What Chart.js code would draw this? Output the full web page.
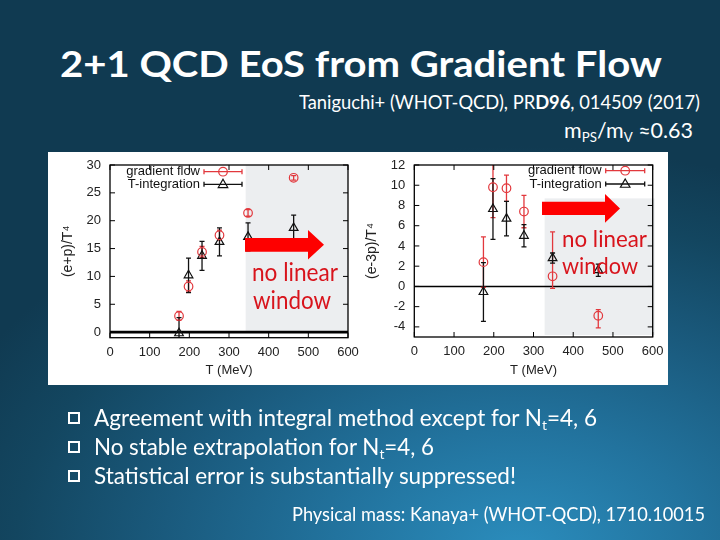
<!DOCTYPE html>
<html><head><meta charset="utf-8">
<script src="https://cdn.jsdelivr.net/npm/chart.js@4.4.1/dist/chart.umd.min.js"></script>
<style>
html,body{margin:0;padding:0;}
body{width:720px;height:540px;overflow:hidden;position:relative;
 background: radial-gradient(ellipse 85% 75% at 72% 102%, #2b8dbd 0%, #22739e 30%, #1a5a7d 58%, #134660 82%, #103a51 100%);
 font-family: Lato, 'Open Sans', sans-serif; color:#fff;}
.t{position:absolute;white-space:nowrap;line-height:1;transform-origin:0 0;}
#panel{position:absolute;left:48px;top:152px;width:620px;height:233px;background:#fff;}
canvas{position:absolute;}
.red{color:#d8141c;}
.sq{position:absolute;width:8px;height:8px;border:2.5px solid #fff;}
sub{font-size:0.62em;vertical-align:-0.3em;line-height:0;}
#ov{position:absolute;left:0;top:0;width:720px;height:540px;pointer-events:none;}
</style></head>
<body>
<div class="t" style="left:60px;top:44px;font-size:37px;font-weight:700;" data-w="602">2+1 QCD EoS from Gradient Flow</div>
<div class="t" style="left:299px;top:93px;font-size:18.5px;" data-w="401">Taniguchi+ (WHOT-QCD), PR<b>D96</b>, 014509 (2017)</div>
<div class="t" style="left:564px;top:119px;font-size:21px;" data-w="129">m<sub>PS</sub>/m<sub>V</sub> ≈0.63</div>

<div id="panel"></div>
<canvas id="c1" width="312" height="233" style="left:48px;top:152px;"></canvas>
<canvas id="c2" width="308" height="233" style="left:360px;top:152px;"></canvas>

<svg id="ov" viewBox="0 0 720 540">
  <polygon fill="#fe0000" points="245,238 308,238 308,230 324,244.7 308,259.5 308,251.7 245,251.7"/>
  <polygon fill="#fe0000" points="542,201.7 605,201.7 605,194 620,208.4 605,222.7 605,215 542,215"/>
</svg>
<div class="t red" style="left:252px;top:259px;font-size:25px;" data-w="86">no linear</div>
<div class="t red" style="left:253px;top:287px;font-size:25px;" data-w="78">window</div>
<div class="t red" style="left:562px;top:226px;font-size:24px;" data-w="85">no linear</div>
<div class="t red" style="left:562px;top:252.5px;font-size:24px;" data-w="76">window</div>

<div class="sq" style="left:68px;top:412px;"></div>
<div class="sq" style="left:68px;top:441px;"></div>
<div class="sq" style="left:68px;top:470px;"></div>
<div class="t" style="left:94px;top:407px;font-size:22.5px;" data-w="503">Agreement with integral method except for N<sub>t</sub>=4, 6</div>
<div class="t" style="left:94px;top:436px;font-size:22.5px;" data-w="340">No stable extrapolation for N<sub>t</sub>=4, 6</div>
<div class="t" style="left:94px;top:464.5px;font-size:22.5px;" data-w="422">Statistical error is substantially suppressed!</div>
<div class="t" style="left:292px;top:505px;font-size:18.5px;" data-w="413">Physical mass: Kanaya+ (WHOT-QCD), 1710.10015</div>

<script>
// ---------------- data ----------------
const temps = [174, 198, 232, 276, 348, 463];           // T (MeV)
const xTicks = [0, 100, 200, 300, 400, 500, 600];
const epTicks = [0, 5, 10, 15, 20, 25, 30];
const e3pTicks = [-4, -2, 0, 2, 4, 6, 8, 10, 12];

// (e+p)/T^4
const epGF = [2.9, 8.2, 14.4, 17.4, 21.4, 27.7];
const epGFerr = [0.8, 1.0, 1.0, 0.9, 0.6, 0.4];
const epTI = [-0.2, 10.2, 13.7, 16.2, 17.1, 18.7];
const epTIerr = [2.8, 3.1, 2.6, 2.5, 2.5, 2.3];

// (e-3p)/T^4
const e3pGF = [2.4, 9.8, 9.7, 7.4, 1.0, -2.9];
const e3pGFerrUp = [2.5, 3.0, 1.3, 1.6, 4.4, 0.6];
const e3pGFerrDn = [2.5, 3.0, 1.3, 1.6, 1.2, 1.2];
const e3pTI = [-0.55, 7.65, 6.7, 5.0, 2.8, 1.6];
const e3pTIerr = [2.9, 3.0, 1.7, 1.1, 0.5, 0.6];

// shaded "no linear window" regions  [xMin, xMax, yMin, yMax]
const epShade = [342, 600, 0, 30];
const e3pShade = [328, 605, -4.8, 8.7];

const legendLabels = ['gradient flow', 'T-integration'];
// ---------------------------------------

const RED = '#e2383d', BLACK = '#111';
const FONT = "'Liberation Sans', Arial, sans-serif";
Chart.defaults.font.family = FONT;
Chart.defaults.color = '#222';

const extra = {};

function toPts(v){ return temps.map((t,i)=>({x:t, y:v[i]})); }

function drawMarker(ctx, style, x, y, color){
  ctx.save(); ctx.strokeStyle = color; ctx.lineWidth = 1.2; ctx.beginPath();
  if (style === 'circle') { ctx.arc(x, y, 4.3, 0, Math.PI*2); }
  else { const r = 5; ctx.moveTo(x, y - r); ctx.lineTo(x + r*0.95, y + r*0.65); ctx.lineTo(x - r*0.95, y + r*0.65); ctx.closePath(); }
  ctx.stroke(); ctx.restore();
}

const customPlugin = {
  id: 'custom',
  beforeDatasetsDraw(chart){
    const e = extra[chart.canvas.id]; const {ctx, chartArea:a} = chart;
    const xs = chart.scales.x, ys = chart.scales.y;
    const s = e.shade;
    ctx.save(); ctx.fillStyle = '#eceef0';
    const x0 = xs.getPixelForValue(s[0]), x1 = xs.getPixelForValue(s[1]);
    const y0 = ys.getPixelForValue(s[3]), y1 = ys.getPixelForValue(s[2]);
    ctx.fillRect(x0, y0, x1 - x0, y1 - y0);
    ctx.strokeStyle = '#000'; ctx.lineWidth = e.zeroW;
    const yz = ys.getPixelForValue(0);
    ctx.beginPath(); ctx.moveTo(a.left, yz); ctx.lineTo(a.right, yz); ctx.stroke();
    ctx.beginPath(); ctx.rect(a.left, a.top, a.right - a.left, a.bottom - a.top); ctx.clip();
    e.err.forEach(ser => {
      ctx.strokeStyle = ser.color; ctx.lineWidth = 1.3;
      temps.forEach((t,i)=>{
        const x = xs.getPixelForValue(t);
        const yt = ys.getPixelForValue(ser.vals[i] + ser.up[i]);
        const yb = ys.getPixelForValue(ser.vals[i] - ser.dn[i]);
        ctx.beginPath();
        ctx.moveTo(x, yt); ctx.lineTo(x, yb);
        ctx.moveTo(x - 2.5, yt); ctx.lineTo(x + 2.5, yt);
        ctx.moveTo(x - 2.5, yb); ctx.lineTo(x + 2.5, yb);
        ctx.stroke();
      });
    });
    ctx.restore();
  },
  afterDraw(chart){
    const e = extra[chart.canvas.id]; const {ctx, chartArea:a} = chart;
    const xs = chart.scales.x, ys = chart.scales.y;
    ctx.save();
    ctx.strokeStyle = '#000'; ctx.lineWidth = 1.3;
    ctx.strokeRect(a.left, a.top, a.right - a.left, a.bottom - a.top);
    ctx.lineWidth = 1;
    ys.ticks.forEach(tk => {
      const y = ys.getPixelForValue(tk.value);
      ctx.beginPath(); ctx.moveTo(a.left, y); ctx.lineTo(a.left + 5, y);
      ctx.moveTo(a.right, y); ctx.lineTo(a.right - 5, y); ctx.stroke();
    });
    xs.ticks.forEach(tk => {
      const x = xs.getPixelForValue(tk.value);
      ctx.beginPath(); ctx.moveTo(x, a.bottom); ctx.lineTo(x, a.bottom - 5);
      ctx.moveTo(x, a.top); ctx.lineTo(x, a.top + 5); ctx.stroke();
    });
    ctx.font = "13px " + FONT; ctx.textAlign = 'right'; ctx.textBaseline = 'middle'; ctx.fillStyle = '#111';
    const L = e.legend;
    legendLabels.forEach((lab, i) => {
      const y = a.top + L.y[i];
      const tx = a.left + L.textRight;
      ctx.fillText(lab, tx, y);
      const col = i === 0 ? RED : BLACK;
      const sx0 = tx + 4, sx1 = tx + 4 + L.len;
      ctx.strokeStyle = col; ctx.lineWidth = 1.3;
      ctx.beginPath(); ctx.moveTo(sx0, y); ctx.lineTo(sx1, y);
      ctx.moveTo(sx0, y - 2.5); ctx.lineTo(sx0, y + 2.5);
      ctx.moveTo(sx1, y - 2.5); ctx.lineTo(sx1, y + 2.5); ctx.stroke();
      drawMarker(ctx, i === 0 ? 'circle' : 'triangle', (sx0 + sx1) / 2, y, col);
    });
    ctx.restore();
  }
};

function zeroPad(s){ s.paddingLeft = 0; s.paddingRight = 0; s.paddingTop = 0; s.paddingBottom = 0; }

function makeChart(id, cfg){
  extra[id] = cfg.extra;
  return new Chart(document.getElementById(id), {
    type: 'scatter',
    data: { datasets: [
      { label: legendLabels[0], data: toPts(cfg.gf), pointStyle: 'circle', pointRadius: 4.3, borderColor: RED, backgroundColor: 'rgba(0,0,0,0)', pointBorderWidth: 1.2, showLine: false },
      { label: legendLabels[1], data: toPts(cfg.ti), pointStyle: 'triangle', pointRadius: 5, borderColor: BLACK, backgroundColor: 'rgba(0,0,0,0)', pointBorderWidth: 1.2, showLine: false }
    ]},
    options: {
      responsive: false, animation: false, devicePixelRatio: 1,
      layout: { padding: cfg.pad },
      plugins: { legend: { display: false }, tooltip: { enabled: false } },
      scales: {
        x: { type: 'linear', min: 0, max: 600,
          afterBuildTicks: s => { s.ticks = xTicks.map(v => ({value: v})); },
          afterFit: s => { s.height = cfg.xh; zeroPad(s); },
          ticks: { autoSkip: false, maxRotation: 0, padding: 7, font: { size: 13 }, color: '#222' },
          grid: { display: false, drawTicks: false }, border: { display: false },
          title: { display: true, text: 'T (MeV)', font: { size: 13 }, color: '#222', padding: { bottom: 7, top: 0 } } },
        y: { type: 'linear', min: cfg.ymin, max: cfg.ymax,
          afterBuildTicks: s => { s.ticks = cfg.yticks.map(v => ({value: v})); },
          afterFit: s => { s.width = cfg.yw; zeroPad(s); },
          ticks: { padding: 9, font: { size: 13 }, color: '#222' },
          grid: { display: false, drawTicks: false }, border: { display: false },
          title: { display: true, text: cfg.ytitle, font: { size: 14 }, color: '#222', padding: { top: cfg.ytp, bottom: 0 } } }
      }
    },
    plugins: [customPlugin]
  });
}

makeChart('c1', {
  gf: epGF, ti: epTI, ymin: -1, ymax: 30, yticks: epTicks, ytitle: '(e+p)/T⁴', ytp: 12,
  pad: { left: 0, right: 12, top: 13, bottom: 0 }, yw: 62, xh: 47.3,
  extra: { shade: epShade, zeroW: 2.6,
    err: [ { vals: epGF, up: epGFerr, dn: epGFerr, color: RED }, { vals: epTI, up: epTIerr, dn: epTIerr, color: BLACK } ],
    legend: { y: [6.7, 19.3], textRight: 90, len: 38 } }
});
makeChart('c2', {
  gf: e3pGF, ti: e3pTI, ymin: -5, ymax: 12, yticks: e3pTicks, ytitle: '(e-3p)/T⁴', ytp: 4,
  pad: { left: 0, right: 15.3, top: 13, bottom: 0 }, yw: 54.3, xh: 48,
  extra: { shade: e3pShade, zeroW: 1.5,
    err: [ { vals: e3pGF, up: e3pGFerrUp, dn: e3pGFerrDn, color: RED }, { vals: e3pTI, up: e3pTIerr, dn: e3pTIerr, color: BLACK } ],
    legend: { y: [5.7, 19], textRight: 187.4, len: 39 } }
});

document.querySelectorAll('.t[data-w]').forEach(el => {
  const w = el.getBoundingClientRect().width;
  const target = parseFloat(el.dataset.w);
  if (w > 0) el.style.transform = 'scaleX(' + (target / w).toFixed(4) + ')';
});
</script>
</body></html>
